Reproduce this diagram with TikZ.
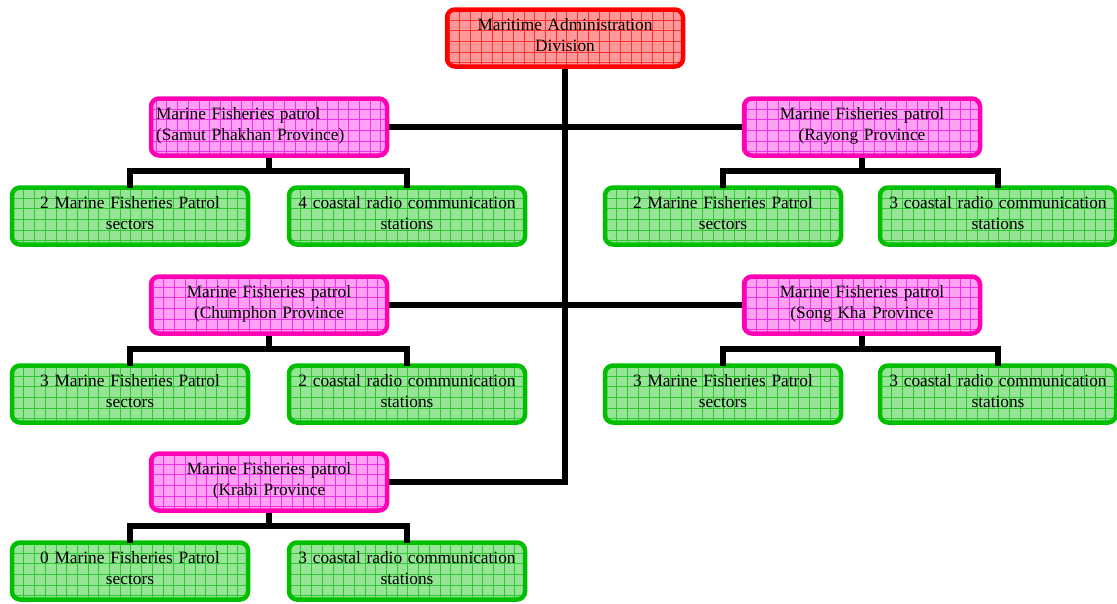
\documentclass[tikz,border=0pt]{standalone}
\usepackage{fontspec}
\setmainfont{Liberation Serif}
\definecolor{redb}{HTML}{FF0000}
\definecolor{redf}{HTML}{FF9898}
\definecolor{redg}{HTML}{FF3030}
\definecolor{pinkb}{HTML}{FF00B4}
\definecolor{pinkf}{HTML}{FFA0F4}
\definecolor{pinkg}{HTML}{F030EA}
\definecolor{greenb}{HTML}{00BE00}
\definecolor{greenf}{HTML}{96E496}
\definecolor{greeng}{HTML}{30C830}
\tikzset{
  gridbox/.style n args={3}{draw=#1, fill=#2, line width=4.5pt, rounded corners=8pt,
    minimum width=236pt, minimum height=57pt, inner sep=0pt,
    text height=12pt, text depth=27pt,
    font=\fontsize{17.3}{21}\selectfont,
    path picture={\draw[#3, line width=0.45pt, step=10.7pt]
      (path picture bounding box.south west) grid (path picture bounding box.north east);}},
  topbox/.style={gridbox={redb}{redf}{redg}, align=center, text width=232pt},
  provbox/.style={gridbox={pinkb}{pinkf}{pinkg}, align=center, text width=232pt},
  provboxl/.style={gridbox={pinkb}{pinkf}{pinkg}, align=left, text width=226pt},
  unitbox/.style={gridbox={greenb}{greenf}{greeng}, align=center, text width=234pt},
  link/.style={line width=6pt, black},
}
\begin{document}
\begin{tikzpicture}[x=1pt,y=-1pt]
\useasboundingbox (0,0) rectangle (1117,603);
% connectors first (beneath boxes)
\coordinate (tend) at (565,482);
\coordinate (topb) at (565,60);
\coordinate (samR) at (380,127);
\coordinate (rayL) at (750,127);
\coordinate (chuR) at (380,305);
\coordinate (sonL) at (750,305);
\coordinate (kraR) at (380,482);
\draw[link] (topb) -- (tend);
\draw[link] (samR) -- (rayL);
\draw[link] (chuR) -- (sonL);
\draw[link, line cap=rect] (kraR) -- (tend);
% top
\node[topbox] (top) at (565,38) {Maritime Administration\\Division};
% provinces
\node[provboxl] (samut) at (269,127) {Marine Fisheries patrol\\(Samut Phakhan Province)};
\node[provbox] (rayong) at (862,127) {Marine Fisheries patrol\\(Rayong Province};
\node[provbox] (chum) at (269,305) {Marine Fisheries patrol\\(Chumphon Province};
\node[provbox] (song) at (862,305) {Marine Fisheries patrol\\(Song Kha Province};
\node[provbox] (krabi) at (269,482) {Marine Fisheries patrol\\(Krabi Province};
% units
\node[unitbox] (s1) at (130,216) {2 Marine Fisheries Patrol\\sectors};
\node[unitbox] (s2) at (407,216) {4 coastal radio communication\\stations};
\node[unitbox] (r1) at (723,216) {2 Marine Fisheries Patrol\\sectors};
\node[unitbox] (r2) at (998,216) {3 coastal radio communication\\stations};
\node[unitbox] (c1) at (130,394) {3 Marine Fisheries Patrol\\sectors};
\node[unitbox] (c2) at (407,394) {2 coastal radio communication\\stations};
\node[unitbox] (g1) at (723,394) {3 Marine Fisheries Patrol\\sectors};
\node[unitbox] (g2) at (998,394) {3 coastal radio communication\\stations};
\node[unitbox] (k1) at (130,571) {0 Marine Fisheries Patrol\\sectors};
\node[unitbox] (k2) at (407,571) {3 coastal radio communication\\stations};
% child connectors
\foreach \p/\a/\b in {samut/s1/s2, rayong/r1/r2, chum/c1/c2, song/g1/g2, krabi/k1/k2}{
  \draw[link] (\p.south) -- ++(0,14);
  \draw[link, line cap=rect] (\a.north) -- ++(0,-14) -| (\b.north);
}
\end{tikzpicture}
\end{document}
